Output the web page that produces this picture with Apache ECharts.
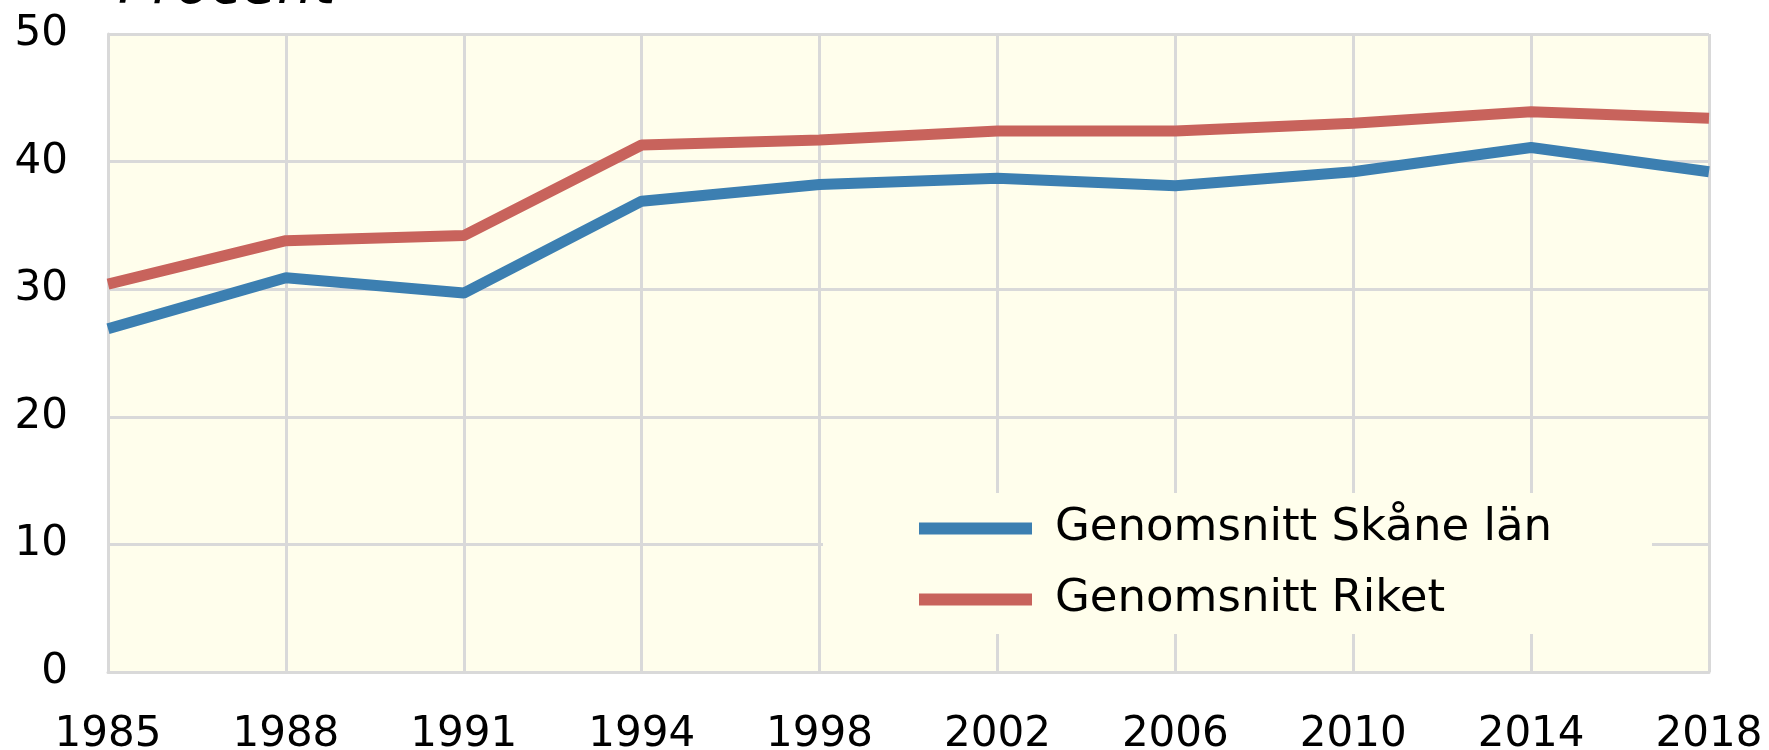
<!DOCTYPE html>
<html>
<head>
<meta charset="utf-8">
<script src="https://cdn.jsdelivr.net/npm/echarts@6/dist/echarts.min.js"></script>
<style>html,body{margin:0;padding:0;background:#fff}#c{width:1769px;height:750px}</style>
</head>
<body>
<div id="c"></div>
<script>
const years = ['1985','1988','1991','1994','1998','2002','2006','2010','2014','2018'];
const skane = [26.9, 30.9, 29.7, 36.9, 38.2, 38.7, 38.1, 39.2, 41.1, 39.2];
const riket = [30.4, 33.8, 34.2, 41.3, 41.7, 42.4, 42.4, 43.0, 43.9, 43.4];
const seriesNames = ['Genomsnitt Skåne län', 'Genomsnitt Riket'];
const yTitle = 'Procent';

const FONT = 'DejaVu Sans';
const gridColor = '#d9d9d9';
const chart = echarts.init(document.getElementById('c'), null, {renderer:'canvas'});
chart.setOption({
  animation: false,
  backgroundColor: '#ffffff',
  title: {
    text: yTitle, left: 118, top: -40, padding: 0,
    textStyle: {fontFamily: FONT, fontSize: 57, fontStyle: 'italic', fontWeight: 'normal', color: '#000'}
  },
  grid: {left: 108, right: 60, top: 34, bottom: 78, show: true, backgroundColor: '#fffeec', borderWidth: 0, containLabel: false, outerBoundsMode: 'none'},
  legend: {
    data: seriesNames,
    orient: 'vertical',
    left: 823, top: 493,
    backgroundColor: '#fffeec',
    padding: [13, 100, 12, 96],
    icon: 'rect',
    itemWidth: 113, itemHeight: 12,
    itemGap: 26,
    textStyle: {fontFamily: FONT, fontSize: 45, color: '#000', padding: [0, 0, 0, 18]}
  },
  xAxis: {
    type: 'category', data: years, boundaryGap: false,
    axisLine: {show: true, lineStyle: {color: gridColor, width: 3}},
    axisTick: {show: false},
    splitLine: {show: true, lineStyle: {color: gridColor, width: 3}},
    axisLabel: {fontFamily: FONT, fontSize: 42, color: '#000', margin: 42, interval: 0}
  },
  yAxis: {
    type: 'value', min: 0, max: 50, interval: 10,
    axisLine: {show: true, lineStyle: {color: gridColor, width: 3}},
    axisTick: {show: false},
    splitLine: {show: true, lineStyle: {color: gridColor, width: 3}},
    axisLabel: {fontFamily: FONT, fontSize: 42, color: '#000', margin: 40, padding: [4, 0, 0, 0]}
  },
  series: [
    {name: seriesNames[0], type: 'line', data: skane, symbol: 'none', lineStyle: {width: 11, color: '#3c7fb1'}, itemStyle: {color: '#3c7fb1'}, z: 3},
    {name: seriesNames[1], type: 'line', data: riket, symbol: 'none', lineStyle: {width: 11, color: '#c8635c'}, itemStyle: {color: '#c8635c'}, z: 3}
  ]
});
</script>
</body>
</html>
